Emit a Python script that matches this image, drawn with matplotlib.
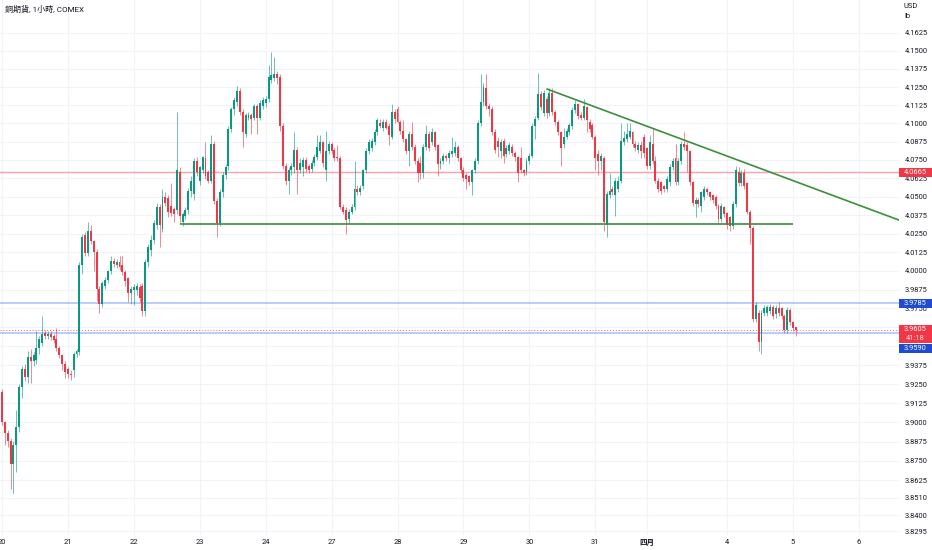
import matplotlib
matplotlib.use('Agg')
import matplotlib.pyplot as plt
import matplotlib.ticker as mticker
from matplotlib.patches import Rectangle
import numpy as np

plt.rcParams['font.family'] = ['Roboto', 'Noto Sans CJK TC', 'DejaVu Sans']

# copper futures, 1h bars, 20 Mar .. 5 Apr (23 bars per session)
o = [3.920, 3.900, 3.893, 3.888, 3.873, 3.885, 3.897, 3.923, 3.935, 3.930, 3.943, 3.940, 3.941, 3.949, 3.952, 3.959, 3.957, 3.958, 3.957, 3.955, 3.949, 3.944, 3.938,
     3.935, 3.932, 3.934, 3.945, 3.946, 4.004, 4.024, 4.012, 4.027, 4.020, 4.013, 3.988, 3.978, 3.990, 3.994, 4.000, 4.007, 4.004, 4.006, 4.004, 3.999, 3.995, 3.985,
     3.987, 3.987, 3.989, 3.990, 3.973, 4.006, 4.014, 4.021, 4.031, 4.043, 4.028, 4.050, 4.049, 4.044, 4.042, 4.041, 4.067, 4.033, 4.037, 4.041, 4.054, 4.052, 4.074,
     4.061, 4.068, 4.076, 4.067, 4.061, 4.086, 4.047, 4.032, 4.053, 4.065, 4.071, 4.096, 4.110, 4.115, 4.122, 4.108, 4.093, 4.104, 4.106, 4.104, 4.112, 4.104, 4.112,
     4.114, 4.117, 4.130, 4.131, 4.134, 4.132, 4.098, 4.071, 4.061, 4.068, 4.070, 4.082, 4.068, 4.070, 4.075, 4.071, 4.069, 4.073, 4.077, 4.081, 4.087, 4.068, 4.081,
     4.086, 4.082, 4.077, 4.076, 4.043, 4.041, 4.035, 4.040, 4.043, 4.055, 4.053, 4.057, 4.068, 4.081, 4.083, 4.087, 4.094, 4.100, 4.097, 4.101, 4.098, 4.091, 4.108,
     4.110, 4.101, 4.095, 4.089, 4.081, 4.093, 4.084, 4.074, 4.073, 4.066, 4.084, 4.093, 4.087, 4.094, 4.085, 4.072, 4.074, 4.078, 4.076, 4.079, 4.080, 4.084, 4.076,
     4.068, 4.065, 4.064, 4.060, 4.068, 4.074, 4.100, 4.115, 4.124, 4.112, 4.110, 4.094, 4.088, 4.081, 4.088, 4.079, 4.081, 4.084, 4.080, 4.077, 4.076, 4.068, 4.067,
     4.074, 4.078, 4.098, 4.104, 4.120, 4.107, 4.117, 4.107, 4.121, 4.108, 4.101, 4.094, 4.086, 4.091, 4.094, 4.098, 4.109, 4.113, 4.106, 4.104, 4.111, 4.101, 4.099,
     4.091, 4.079, 4.074, 4.076, 4.031, 4.051, 4.055, 4.051, 4.055, 4.061, 4.087, 4.089, 4.091, 4.094, 4.086, 4.082, 4.085, 4.091, 4.083, 4.071, 4.086, 4.074, 4.061,
     4.060, 4.057, 4.055, 4.060, 4.070, 4.076, 4.060, 4.074, 4.086, 4.085, 4.081, 4.060, 4.045, 4.048, 4.044, 4.050, 4.055, 4.053, 4.051, 4.050, 4.044, 4.035, 4.043,
     4.039, 4.036, 4.030, 4.045, 4.067, 4.059, 4.066, 4.059, 4.040, 4.029, 3.968, 3.972, 3.953, 3.972, 3.972, 3.973, 3.976, 3.971, 3.975, 3.975, 3.970, 3.961, 3.974,
     3.966, 3.9625]
h = [3.922, 3.901, 3.895, 3.890, 3.888, 3.908, 3.925, 3.937, 3.938, 3.947, 3.948, 3.946, 3.960, 3.957, 3.970, 3.961, 3.960, 3.960, 3.958, 3.962, 3.950, 3.945, 3.940,
     3.936, 3.934, 3.946, 3.948, 4.006, 4.025, 4.026, 4.033, 4.031, 4.021, 4.015, 3.990, 3.993, 3.996, 4.001, 4.010, 4.009, 4.008, 4.010, 4.010, 4.001, 3.996, 3.990,
     3.991, 3.992, 3.991, 3.992, 4.008, 4.018, 4.024, 4.034, 4.046, 4.045, 4.055, 4.053, 4.051, 4.059, 4.043, 4.108, 4.070, 4.040, 4.043, 4.056, 4.064, 4.076, 4.077,
     4.071, 4.078, 4.087, 4.068, 4.092, 4.088, 4.049, 4.055, 4.067, 4.072, 4.098, 4.111, 4.118, 4.126, 4.124, 4.110, 4.107, 4.108, 4.107, 4.113, 4.113, 4.116, 4.118,
     4.119, 4.140, 4.149, 4.146, 4.136, 4.134, 4.100, 4.073, 4.070, 4.073, 4.094, 4.084, 4.076, 4.077, 4.077, 4.072, 4.075, 4.079, 4.092, 4.092, 4.088, 4.095, 4.088,
     4.087, 4.083, 4.085, 4.078, 4.045, 4.043, 4.042, 4.045, 4.074, 4.058, 4.058, 4.069, 4.083, 4.089, 4.090, 4.096, 4.104, 4.103, 4.103, 4.103, 4.100, 4.113, 4.110,
     4.112, 4.102, 4.102, 4.090, 4.095, 4.101, 4.086, 4.076, 4.078, 4.086, 4.099, 4.095, 4.097, 4.095, 4.086, 4.076, 4.080, 4.079, 4.082, 4.091, 4.088, 4.085, 4.077,
     4.070, 4.066, 4.065, 4.069, 4.076, 4.102, 4.134, 4.128, 4.134, 4.114, 4.112, 4.096, 4.091, 4.089, 4.090, 4.085, 4.087, 4.086, 4.081, 4.078, 4.084, 4.069, 4.076,
     4.080, 4.100, 4.105, 4.135, 4.122, 4.123, 4.119, 4.124, 4.124, 4.109, 4.102, 4.095, 4.097, 4.097, 4.100, 4.111, 4.116, 4.114, 4.108, 4.117, 4.112, 4.103, 4.100,
     4.092, 4.082, 4.080, 4.078, 4.054, 4.066, 4.057, 4.063, 4.064, 4.100, 4.095, 4.100, 4.100, 4.095, 4.088, 4.087, 4.088, 4.093, 4.084, 4.092, 4.097, 4.078, 4.063,
     4.061, 4.058, 4.064, 4.072, 4.076, 4.086, 4.076, 4.088, 4.094, 4.087, 4.082, 4.061, 4.050, 4.049, 4.054, 4.057, 4.056, 4.054, 4.052, 4.051, 4.045, 4.046, 4.044,
     4.040, 4.037, 4.047, 4.071, 4.070, 4.068, 4.069, 4.060, 4.041, 4.030, 3.979, 3.974, 3.974, 3.977, 3.977, 3.978, 3.977, 3.977, 3.979, 3.976, 3.971, 3.976, 3.975,
     3.967, 3.963]
l = [3.898, 3.885, 3.884, 3.857, 3.854, 3.868, 3.894, 3.916, 3.927, 3.926, 3.926, 3.937, 3.938, 3.945, 3.950, 3.955, 3.955, 3.954, 3.952, 3.947, 3.942, 3.934, 3.929,
     3.929, 3.928, 3.930, 3.943, 3.944, 3.998, 4.010, 4.010, 4.018, 4.000, 3.980, 3.972, 3.976, 3.988, 3.992, 3.998, 4.003, 4.002, 4.001, 3.997, 3.990, 3.979, 3.978,
     3.977, 3.984, 3.979, 3.970, 3.970, 4.003, 4.010, 4.018, 4.028, 4.016, 4.026, 4.044, 4.036, 4.037, 4.033, 4.038, 4.033, 4.030, 4.035, 4.038, 4.050, 4.048, 4.064,
     4.058, 4.066, 4.062, 4.059, 4.059, 4.045, 4.023, 4.030, 4.050, 4.062, 4.068, 4.094, 4.106, 4.112, 4.106, 4.084, 4.091, 4.102, 4.093, 4.102, 4.093, 4.102, 4.110,
     4.111, 4.115, 4.128, 4.129, 4.127, 4.095, 4.069, 4.058, 4.052, 4.065, 4.066, 4.052, 4.066, 4.064, 4.067, 4.066, 4.067, 4.071, 4.075, 4.080, 4.070, 4.061, 4.079,
     4.079, 4.074, 4.074, 4.042, 4.038, 4.025, 4.032, 4.038, 4.041, 4.051, 4.051, 4.055, 4.066, 4.079, 4.081, 4.085, 4.092, 4.097, 4.095, 4.096, 4.085, 4.089, 4.100,
     4.100, 4.093, 4.087, 4.079, 4.071, 4.082, 4.072, 4.060, 4.062, 4.063, 4.082, 4.081, 4.085, 4.082, 4.064, 4.069, 4.072, 4.074, 4.073, 4.077, 4.078, 4.074, 4.066,
     4.061, 4.055, 4.058, 4.051, 4.066, 4.072, 4.098, 4.112, 4.110, 4.105, 4.092, 4.080, 4.077, 4.076, 4.073, 4.077, 4.079, 4.078, 4.074, 4.060, 4.066, 4.064, 4.065,
     4.072, 4.076, 4.089, 4.102, 4.109, 4.105, 4.104, 4.105, 4.106, 4.099, 4.092, 4.071, 4.083, 4.089, 4.092, 4.096, 4.107, 4.103, 4.102, 4.102, 4.094, 4.094, 4.089,
     4.068, 4.065, 4.068, 4.027, 4.023, 4.049, 4.051, 4.037, 4.053, 4.059, 4.085, 4.087, 4.089, 4.084, 4.081, 4.080, 4.076, 4.076, 4.069, 4.069, 4.072, 4.059, 4.053,
     4.052, 4.053, 4.053, 4.057, 4.068, 4.058, 4.058, 4.072, 4.082, 4.067, 4.058, 4.044, 4.036, 4.043, 4.040, 4.048, 4.051, 4.048, 4.046, 4.042, 4.032, 4.033, 4.036,
     4.028, 4.027, 4.028, 4.043, 4.057, 4.057, 4.055, 4.038, 4.018, 3.966, 3.966, 3.947, 3.945, 3.970, 3.970, 3.971, 3.968, 3.969, 3.970, 3.968, 3.959, 3.959, 3.964,
     3.960, 3.957]
c = [3.900, 3.893, 3.888, 3.873, 3.885, 3.897, 3.923, 3.935, 3.930, 3.943, 3.940, 3.944, 3.949, 3.955, 3.958, 3.957, 3.958, 3.956, 3.954, 3.949, 3.944, 3.938, 3.933,
     3.932, 3.931, 3.945, 3.947, 4.004, 4.023, 4.012, 4.027, 4.020, 4.013, 3.988, 3.978, 3.992, 3.994, 4.000, 4.007, 4.005, 4.006, 4.003, 3.999, 3.993, 3.985, 3.988,
     3.989, 3.990, 3.982, 3.973, 4.006, 4.016, 4.021, 4.032, 4.043, 4.031, 4.050, 4.046, 4.040, 4.039, 4.038, 4.068, 4.037, 4.038, 4.041, 4.054, 4.061, 4.074, 4.067,
     4.070, 4.077, 4.064, 4.061, 4.086, 4.047, 4.032, 4.053, 4.065, 4.070, 4.096, 4.110, 4.116, 4.122, 4.108, 4.094, 4.106, 4.106, 4.103, 4.112, 4.104, 4.114, 4.116,
     4.117, 4.132, 4.133, 4.134, 4.131, 4.098, 4.071, 4.061, 4.068, 4.071, 4.082, 4.068, 4.073, 4.075, 4.069, 4.068, 4.073, 4.077, 4.084, 4.087, 4.073, 4.081, 4.086,
     4.081, 4.076, 4.076, 4.043, 4.040, 4.034, 4.040, 4.043, 4.055, 4.053, 4.056, 4.068, 4.081, 4.087, 4.088, 4.094, 4.102, 4.098, 4.101, 4.097, 4.092, 4.108, 4.103,
     4.101, 4.095, 4.089, 4.081, 4.093, 4.084, 4.074, 4.066, 4.066, 4.084, 4.093, 4.083, 4.094, 4.084, 4.072, 4.074, 4.078, 4.076, 4.080, 4.081, 4.084, 4.076, 4.068,
     4.063, 4.062, 4.060, 4.068, 4.074, 4.100, 4.115, 4.125, 4.112, 4.110, 4.094, 4.082, 4.084, 4.087, 4.078, 4.083, 4.085, 4.080, 4.077, 4.066, 4.068, 4.066, 4.074,
     4.078, 4.098, 4.103, 4.120, 4.111, 4.121, 4.107, 4.121, 4.108, 4.101, 4.094, 4.083, 4.091, 4.095, 4.099, 4.109, 4.113, 4.105, 4.104, 4.112, 4.102, 4.096, 4.091,
     4.076, 4.074, 4.078, 4.033, 4.052, 4.054, 4.053, 4.061, 4.061, 4.088, 4.090, 4.093, 4.095, 4.086, 4.083, 4.085, 4.081, 4.080, 4.071, 4.087, 4.074, 4.061, 4.055,
     4.054, 4.055, 4.062, 4.070, 4.074, 4.060, 4.074, 4.086, 4.084, 4.081, 4.060, 4.046, 4.048, 4.045, 4.053, 4.055, 4.053, 4.050, 4.048, 4.044, 4.035, 4.044, 4.038,
     4.031, 4.030, 4.045, 4.068, 4.059, 4.066, 4.057, 4.040, 4.029, 3.968, 3.977, 3.953, 3.972, 3.975, 3.976, 3.976, 3.970, 3.975, 3.972, 3.970, 3.961, 3.974, 3.966,
     3.962, 3.9605]

day_labels = ['20', '21', '22', '23', '24', '27', '28', '29', '30', '31', '四月', '4', '5', '6']
day_bars = [0, 23, 46, 69, 92, 115, 138, 161, 184, 207, 225, 253, 276, 299]

price_ticks = [4.1625, 4.15, 4.1375, 4.125, 4.1125, 4.1, 4.0875, 4.075, 4.0625, 4.05,
               4.0375, 4.025, 4.0125, 4.0, 3.9875, 3.975, 3.9625, 3.95, 3.9375, 3.925,
               3.9125, 3.9, 3.8875, 3.875, 3.8625, 3.851, 3.84, 3.8295]
# 3.9625 and 3.9500 sit under the price tags, so they get no label
hidden_ticks = [3.9625, 3.95]
price_labels = ['' if p in hidden_ticks else '%.4f' % p for p in price_ticks]

red_level = 4.0665
blue_levels = [3.9785, 3.9590]
last_price = 3.9605
support_level = 4.0315
support_from, support_to = 62.1, 276.0
trend_x = [190.2, 313.0]
trend_y = [4.1236, 4.0342]

GREEN = '#089981'
RED = '#f23645'
BLUE = '#2962ff'
LINE_GREEN = '#3b8f3b'
TXT = '#131722'

W, H = 932, 550
PW, PH = 899, 535
fig = plt.figure(figsize=(W / 100, H / 100), dpi=100)
ax = fig.add_axes([0, (H - PH) / H, PW / W, PH / H])

o = np.array(o); h = np.array(h); l = np.array(l); c = np.array(c)
x = np.arange(len(c))
up = c >= o
cols = np.where(up, GREEN, RED)

ax.vlines(x, l, h, colors=cols, lw=0.7, alpha=0.6, zorder=3)
body = np.maximum(np.abs(c - o), 0.0007)
ax.bar(x, body, bottom=np.minimum(o, c), width=0.68, color=cols, lw=0, zorder=4)

ax.axhline(red_level, color=RED, alpha=0.45, lw=1.0, zorder=2)
for b in blue_levels:
    ax.axhline(b, color=BLUE, alpha=0.35, lw=1.3, zorder=2)
ax.axhline(last_price, color=RED, alpha=0.8, lw=0.7, ls=(0, (1, 2)), zorder=2)
ax.hlines(support_level, support_from, support_to, color=LINE_GREEN, lw=1.2, zorder=5)
ax.plot(trend_x, trend_y, color=LINE_GREEN, lw=1.2, zorder=5)

ax.set_yscale('log')
ax.set_ylim(3.8272, 4.1855)
ax.set_xlim(-2 / 2.866, (PW - 2) / 2.866)
ax.yaxis.set_major_locator(mticker.FixedLocator(price_ticks))
ax.yaxis.set_major_formatter(mticker.FixedFormatter(price_labels))
ax.yaxis.set_minor_locator(mticker.NullLocator())
ax.yaxis.tick_right()
ax.set_xticks(day_bars)
ax.set_xticklabels(day_labels)
for t in ax.get_xticklabels():
    if t.get_text() == '四月':
        t.set_fontweight('bold')
ax.tick_params(axis='y', length=0, pad=4, labelsize=5.4, labelcolor=TXT)
ax.tick_params(axis='x', length=0, pad=3, labelsize=5.4, labelcolor=TXT)
ax.grid(True, color='#f0f3fa', lw=0.8)
ax.set_axisbelow(True)
for s in ax.spines.values():
    s.set_visible(False)


def tag(price, lines, color, dy=0, hpx=10):
    ypx = ax.transData.transform((0, price))[1] + dy
    fig.add_artist(Rectangle((PW / W, (ypx - hpx / 2) / H), (W - PW) / W, hpx / H,
                             transform=fig.transFigure, color=color, lw=0, zorder=10))
    n = len(lines)
    for k, s in enumerate(lines):
        yy = ypx + hpx / 2 - (k + 0.5) * hpx / n
        fig.text((PW + W) / 2 / W, yy / H, s, ha='center', va='center', fontsize=5.4,
                 color='white', alpha=1.0 if k == 0 else 0.85, zorder=11)


tag(red_level, ['4.0665'], RED, dy=0, hpx=9)
tag(blue_levels[0], ['3.9785'], '#1e4bd2', dy=0, hpx=9)
tag(last_price, ['3.9605', '41:18'], RED, dy=-4, hpx=18)
tag(blue_levels[1], ['3.9590'], '#1e4bd2', dy=-15.5, hpx=9)

fig.text(5 / W, 1 - 9 / H, '銅期貨, 1小時, COMEX', fontsize=5.8, va='center', color=TXT)
fig.text(904 / W, 1 - 7 / H, 'USD', fontsize=5.4, va='center', color=TXT)
fig.text(904 / W, 1 - 17 / H, 'lb', fontsize=5.4, va='center', color=TXT)

fig.savefig('out.png', dpi=100)
